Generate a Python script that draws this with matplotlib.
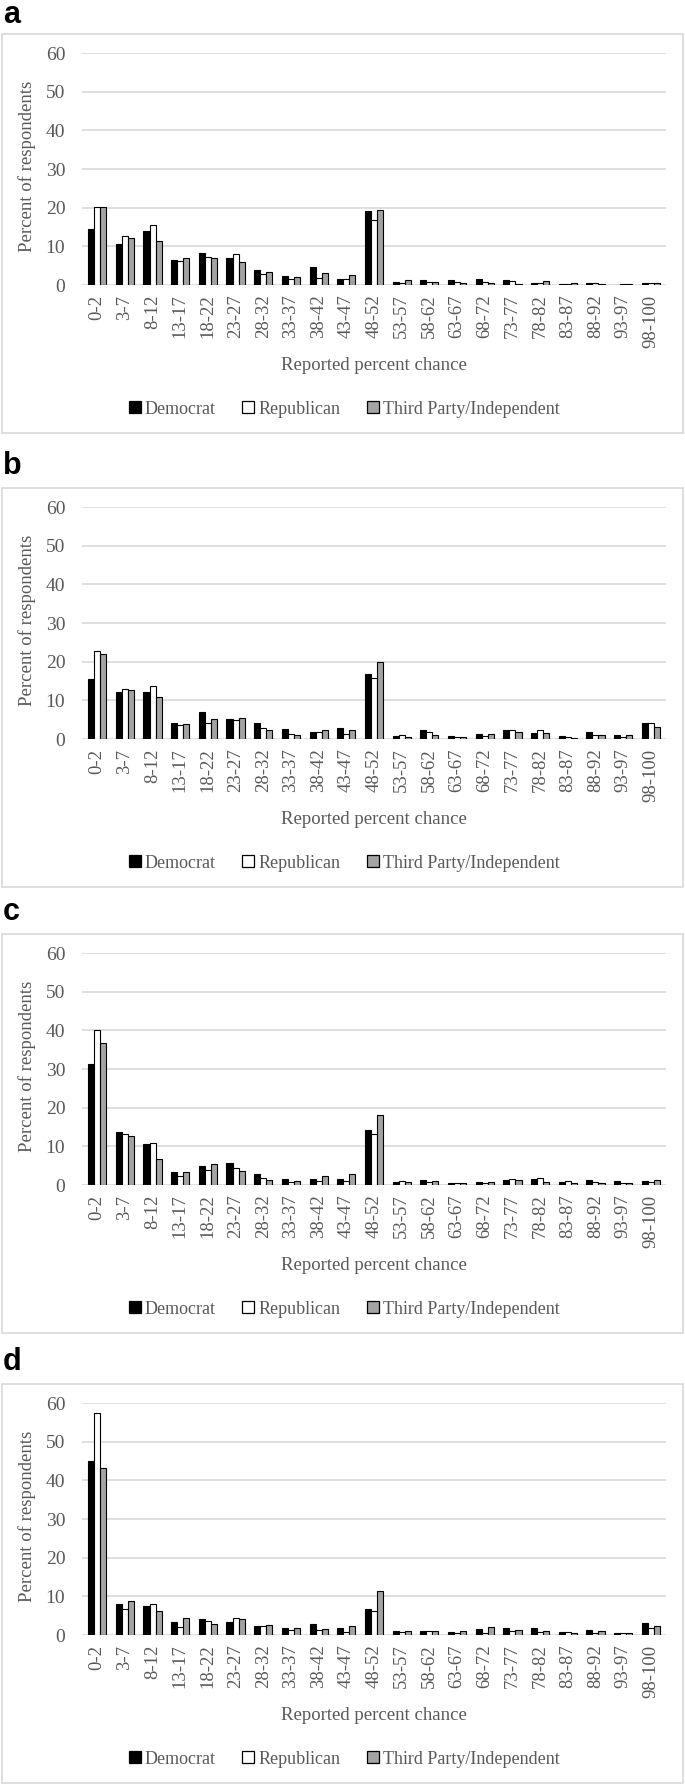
import matplotlib
matplotlib.use('Agg')
import matplotlib.pyplot as plt
from matplotlib.patches import Rectangle
from matplotlib.lines import Line2D
import numpy as np

plt.rcParams['font.family'] = ['Liberation Serif', 'DejaVu Serif']

bins = ['0-2', '3-7', '8-12', '13-17', '18-22', '23-27', '28-32', '33-37',
        '38-42', '43-47', '48-52', '53-57', '58-62', '63-67', '68-72',
        '73-77', '78-82', '83-87', '88-92', '93-97', '98-100']
parties = ['Democrat', 'Republican', 'Third Party/Independent']
panel_letters = ['a', 'b', 'c', 'd']

# panel a
dem_a = [14.6, 10.7, 13.9, 6.5, 8.2, 6.9, 3.9, 2.4, 4.6, 1.6, 19.1,
         0.9, 1.4, 1.2, 1.5, 1.2, 0.4, 0.3, 0.4, 0.0, 0.4]
rep_a = [20.1, 12.7, 15.6, 6.2, 7.2, 7.9, 2.9, 1.6, 1.7, 1.6, 16.8,
         0.4, 0.9, 0.7, 0.7, 1.0, 0.5, 0.3, 0.4, 0.2, 0.4]
ind_a = [20.2, 12.1, 11.5, 6.9, 6.9, 6.0, 3.3, 2.1, 3.0, 2.6, 19.3,
         1.4, 0.7, 0.4, 0.5, 0.3, 1.1, 0.4, 0.3, 0.3, 0.4]
# panel b
dem_b = [15.5, 12.1, 12.2, 4.1, 7.0, 5.2, 4.1, 2.5, 1.8, 2.8, 16.8,
         0.7, 2.2, 0.8, 1.2, 2.3, 1.6, 0.7, 1.9, 1.0, 4.1]
rep_b = [22.7, 13.0, 13.6, 3.6, 4.2, 5.0, 2.9, 1.2, 1.7, 1.3, 15.9,
         1.0, 1.8, 0.5, 0.9, 2.4, 2.2, 0.5, 1.1, 0.6, 4.1]
ind_b = [22.0, 12.8, 10.8, 4.0, 5.2, 5.5, 2.4, 1.0, 2.3, 2.4, 19.9,
         0.6, 1.0, 0.6, 1.2, 1.7, 1.5, 0.3, 1.0, 1.0, 3.0]
# panel c
dem_c = [31.3, 13.8, 10.5, 3.4, 4.9, 5.8, 2.9, 1.6, 1.6, 1.6, 14.1,
         0.9, 1.2, 0.6, 0.8, 1.4, 1.6, 0.9, 1.2, 1.0, 1.0]
rep_c = [40.2, 13.3, 10.8, 2.3, 4.0, 4.3, 1.9, 0.9, 1.1, 1.0, 13.2,
         1.0, 0.8, 0.6, 0.5, 1.5, 1.9, 1.0, 0.9, 0.5, 0.9]
ind_c = [36.7, 12.6, 6.8, 3.3, 5.5, 3.6, 1.4, 1.1, 2.3, 2.8, 18.1,
         0.7, 1.0, 0.6, 0.7, 1.2, 0.9, 0.5, 0.5, 0.4, 1.2]
# panel d
dem_d = [45.1, 8.0, 7.6, 3.4, 4.2, 3.4, 2.3, 1.9, 2.9, 1.8, 6.7,
         1.1, 1.0, 0.8, 1.6, 1.9, 1.9, 0.8, 1.2, 0.5, 3.0]
rep_d = [57.5, 6.8, 8.0, 2.0, 3.6, 4.4, 2.3, 1.2, 1.2, 0.9, 6.1,
         0.9, 1.0, 0.6, 0.6, 1.0, 0.7, 0.7, 0.5, 0.5, 1.8]
ind_d = [43.3, 8.8, 6.2, 4.4, 2.9, 4.2, 2.6, 1.8, 1.5, 2.3, 11.4,
         1.0, 1.0, 1.0, 2.0, 1.4, 1.0, 0.5, 1.0, 0.5, 2.4]

panels = [(dem_a, rep_a, ind_a), (dem_b, rep_b, ind_b),
          (dem_c, rep_c, ind_c), (dem_d, rep_d, ind_d)]

W, H = 685, 1785
fig = plt.figure(figsize=(W / 100, H / 100), dpi=100)

box_tops = [34, 488, 934, 1384]
fills = ['black', 'white', '#a3a3a3']
grey = '#595959'
x = np.arange(len(bins))
bw = 0.22

for i, top in enumerate(box_tops):
    # outer frame of the panel
    fig.add_artist(Rectangle((1.5 / W, 1 - (top + 399) / H), 681 / W, 399 / H,
                             transform=fig.transFigure, fill=False,
                             edgecolor='#d9d9d9', linewidth=1.2))
    base = max(top - 14, 23)
    fig.text(3 / W, 1 - base / H, panel_letters[i], family='Liberation Sans',
             fontweight='bold', fontsize=22, va='baseline', ha='left')

    y60 = top + 19
    y0 = top + 251
    ax = fig.add_axes([82 / W, 1 - y0 / H, 584 / W, (y0 - y60) / H])
    for k, vals in enumerate(panels[i]):
        ax.bar(x + (k - 1) * bw, vals, bw, color=fills[k], edgecolor='black',
               linewidth=0.8, zorder=3)
    ax.set_ylim(0, 60)
    ax.set_xlim(-0.55, len(bins) - 0.45)
    ax.set_yticks([0, 10, 20, 30, 40, 50, 60])
    ax.yaxis.grid(True, color='#d9d9d9', linewidth=1.2, zorder=0)
    ax.set_axisbelow(True)
    for s in ax.spines.values():
        s.set_visible(False)
    ax.set_xticks(x)
    ax.set_xticklabels(bins, rotation=90, fontsize=13.5, color=grey)
    ax.tick_params(axis='x', length=0, pad=7)
    ax.tick_params(axis='y', length=0, pad=12, labelsize=14, labelcolor=grey)
    ax.set_ylabel('Percent of respondents', fontsize=13.5, color=grey)
    ax.yaxis.set_label_coords(-46 / 584, 0.51)

    fig.text(374 / W, 1 - (top + 331) / H, 'Reported percent chance',
             fontsize=13.5, color=grey, ha='center', va='center')

    handles = [Line2D([], [], marker='s', linestyle='none', markersize=9,
                      markerfacecolor=fills[k], markeredgecolor='black',
                      markeredgewidth=0.9) for k in range(3)]
    leg = ax.legend(handles, parties, loc='center', ncol=3, frameon=False,
                    bbox_to_anchor=(344 / W, 1 - (top + 375) / H),
                    bbox_transform=fig.transFigure, fontsize=13,
                    handlelength=0.72, handletextpad=0.2,
                    columnspacing=1.45)
    for t in leg.get_texts():
        t.set_color(grey)

fig.savefig('out.png', dpi=100)
